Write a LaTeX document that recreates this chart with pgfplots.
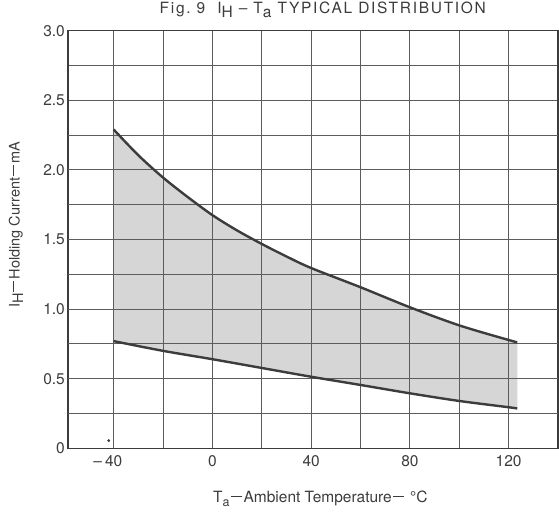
\documentclass[border=0pt]{standalone}
\usepackage{fontspec}
\setmainfont{TeX Gyre Heros}
\usepackage{pgfplots}
\pgfplotsset{compat=1.18}
\definecolor{ink}{HTML}{3C3C3C}
\definecolor{gridc}{HTML}{5C5C5C}
\definecolor{band}{HTML}{D6D6D6}
\newcommand{\lblfont}{\fontsize{15.5bp}{18bp}\selectfont}
\newcommand{\ylblfont}{\fontsize{14.5bp}{17bp}\selectfont}
\newcommand{\sub}[1]{\raisebox{-3.5bp}{#1}}
\newcommand{\ssub}[1]{\raisebox{-3.5bp}{\fontsize{12.5bp}{13bp}\selectfont #1}}
\newcommand{\ldash}{\kern1.5bp\rule[5.5bp]{11bp}{1.1bp}\kern1.5bp}

\begin{document}
\begin{tikzpicture}[x=1bp,y=1bp]
\begin{axis}[
  at={(0,0)}, anchor=south west,
  scale only axis, width=490bp, height=417.6bp,
  xmin=-58.5, xmax=140, ymin=0, ymax=3,
  xtick={-40,0,40,80,120}, minor xtick={-20,20,60,100,140},
  xticklabels={\llap{--\kern3bp}40,0,40,80,120},
  ytick={0,0.5,1,1.5,2,2.5,3}, minor ytick={0.25,0.75,1.25,1.75,2.25,2.75},
  yticklabels={0,0.5,1.0,1.5,2.0,2.5,3.0},
  grid=both,
  major grid style={gridc, line width=0.8bp},
  minor grid style={gridc, line width=0.8bp},
  major tick length=0pt, minor tick length=0pt,
  axis line style={ink, line width=1.4bp},
  tick label style={font=\lblfont, text=ink},
  xticklabel style={anchor=north, inner sep=0pt, yshift=-7.5bp},
  yticklabel style={anchor=east, inner sep=0pt, xshift=-3bp},
  title={Fig.\ 9\ \ I\sub{H} -- T\sub{a} TYPICAL DISTRIBUTION},
  title style={at={(axis description cs:0.52,1.0264)}, anchor=base,
    font=\lblfont\addfontfeature{LetterSpace=11}, text=ink},
  xlabel={T\ssub{a}\ldash Ambient Temperature\ldash\ °C},
  xlabel style={at={(axis description cs:0.515,-0.130)}, anchor=base,
    font=\lblfont, text=ink},
  ylabel={I\sub{H}\ldash Holding Current\ldash mA},
  ylabel style={at={(axis description cs:-0.106,0.535)}, anchor=center,
    rotate=0, font=\ylblfont, text=ink},
]
% shaded spread between the two limits
\addplot[fill=band, draw=none] coordinates {
  (-40,2.29) (-30,2.105) (-20,1.945) (-10,1.805) (0,1.675) (10,1.565)
  (20,1.468) (30,1.378) (40,1.295) (60,1.157) (80,1.013) (100,0.883)
  (120,0.778) (123.5,0.762)
  (123.5,0.286) (120,0.295) (100,0.34) (80,0.395) (60,0.455) (40,0.514)
  (20,0.577) (0,0.64) (-20,0.70) (-40,0.77)
} -- cycle;
% grid shows through the shading on the print
\pgfplotsinvokeforeach{-40,-20,0,20,40,60,80,100,120}{
  \draw[gridc, line width=0.8bp] (axis cs:#1,0) -- (axis cs:#1,3);
}
\pgfplotsinvokeforeach{0.25,0.5,0.75,1,1.25,1.5,1.75,2,2.25}{
  \draw[gridc, line width=0.8bp] (axis cs:-58.5,#1) -- (axis cs:140,#1);
}
% upper limit
\addplot[draw=ink, line width=2.4bp, smooth] coordinates {
  (-40,2.29) (-30,2.105) (-20,1.945) (-10,1.805) (0,1.675) (10,1.565)
  (20,1.468) (30,1.378) (40,1.295) (60,1.157) (80,1.013) (100,0.883)
  (120,0.778) (123.5,0.762)
};
% lower limit
\addplot[draw=ink, line width=2.4bp, smooth] coordinates {
  (-40,0.77) (-20,0.70) (0,0.64) (20,0.577) (40,0.514) (60,0.455)
  (80,0.395) (100,0.34) (120,0.295) (123.5,0.286)
};
% speck on the original print
\addplot[only marks, mark=*, mark size=1.2bp, ink] coordinates {(-42,0.055)};
\end{axis}
\pgfresetboundingbox
\path[use as bounding box] (-68,-64.7) rectangle (491,448.3);
\end{tikzpicture}
\end{document}
